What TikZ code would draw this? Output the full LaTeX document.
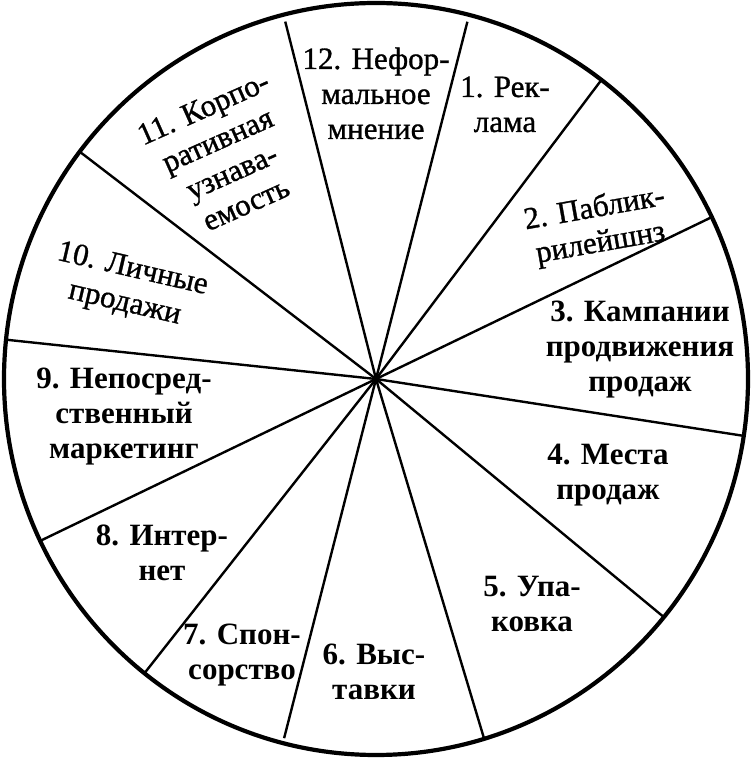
\documentclass[tikz,border=0pt]{standalone}
\usepackage{fontspec}
\setmainfont{Liberation Serif}
\newfontfamily\medserif{Liberation Serif}[FakeBold=1]
\begin{document}
\begin{tikzpicture}[x=1pt,y=1pt,
  rim/.style={line width=4.2pt},
  spoke/.style={line width=2.4pt},
  lbl/.style={align=center, anchor=base, inner sep=0pt, font=\medserif\fontsize{31}{35}\selectfont},
  lblb/.style={lbl, font=\rmfamily\fontsize{31}{35}\selectfont\bfseries}]
\useasboundingbox (0,0) rectangle (754,760);
\coordinate (c) at (376,381);
\draw[rim] (c) ellipse [x radius=372, y radius=376];
% spoke end points
\path (c) ++(104.4:365 and 369) coordinate (e1112);
\path (c) ++(75.5:365 and 369) coordinate (e121);
\path (c) ++(52.7:372 and 376) coordinate (e12);
\path (c) ++(25.5:372 and 376) coordinate (e23);
\path (c) ++(-8.7:372 and 376) coordinate (e34);
\path (c) ++(-39.3:372 and 376) coordinate (e45);
\path (c) ++(-73.1:372 and 376) coordinate (e56);
\path (c) ++(255.5:367 and 371) coordinate (e67);
\path (c) ++(231.5:372 and 376) coordinate (e78);
\path (c) ++(205.5:372 and 376) coordinate (e89);
\path (c) ++(174:372 and 376) coordinate (e910);
\path (c) ++(142.8:372 and 376) coordinate (e1011);
\foreach \e in {e1112,e121,e12,e23,e34,e45,e56,e67,e78,e89,e910,e1011}
  \draw[spoke] (c) -- (\e);
% labels (positioned at the baseline of their last line)
\node[lbl] (t12) at (376,621) {12. Нефор-\\мальное\\мнение};
\node[lbl] (t1) at (505,628) {1. Рек-\\лама};
\node[lbl, rotate=10] (t2) at (602,508.5) {2. Паблик-\\рилейшнз};
\node[lblb] (t3) at (640,368) {3. Кампании\\продвижения\\продаж};
\node[lblb] (t4) at (608,260) {4. Места\\продаж};
\node[lblb] (t5) at (532,128) {5. Упа-\\ковка};
\node[lblb] (t6) at (374,60) {6. Выс-\\тавки};
\node[lblb] (t7) at (242,80) {7. Спон-\\сорство};
\node[lblb] (t8) at (162,179) {8. Интер-\\нет};
\node[lblb] (t9) at (124,301) {9. Непосред-\\ственный\\маркетинг};
\node[lbl, rotate=-13] (t10) at (123,449) {10. Личные\\продажи};
\node[lbl, rotate=24] (t11) at (250,547) {11. Корпо-\\ративная\\узнава-\\емость};
\end{tikzpicture}
\end{document}
